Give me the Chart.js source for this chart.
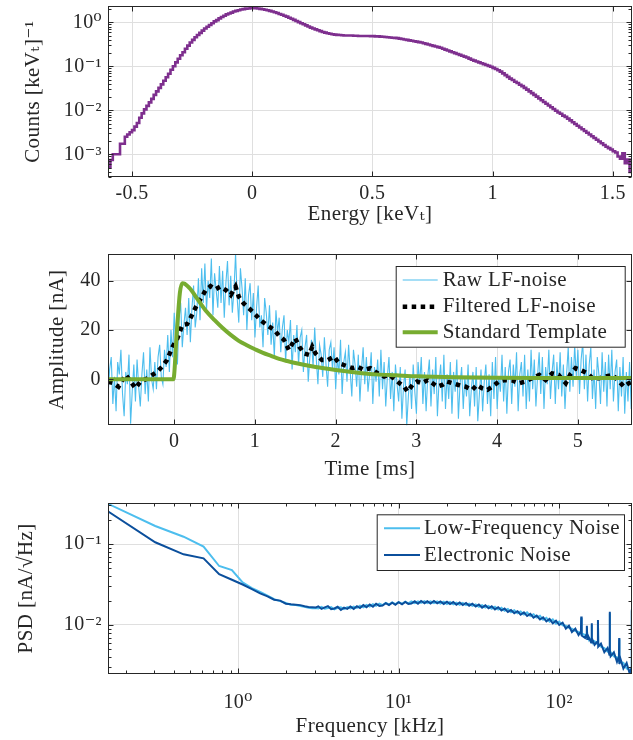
<!DOCTYPE html>
<html>
<head>
<meta charset="utf-8">
<script src="https://cdn.jsdelivr.net/npm/chart.js@4.4.1/dist/chart.umd.min.js"></script>
<style>
  html, body { margin: 0; padding: 0; background: #ffffff; }
  #wrap { position: relative; width: 633px; height: 740px; overflow: hidden; }
  canvas { position: absolute; left: 0; }
</style>
</head>
<body>
<div id="wrap">
  <canvas id="spectrum" width="633" height="240" style="top:0px"></canvas>
  <canvas id="pulse" width="633" height="250" style="top:240px"></canvas>
  <canvas id="psd" width="633" height="250" style="top:490px"></canvas>
</div>
<script>
// ---------------- Energy spectrum (histogram, 0.01 keV_t bins) ----------------
const binStart = -0.6;
const binWidth = 0.01;
// log10 of counts per keV_t in each bin, from the left edge
const logCounts = [
  -3.30, -3.13, -3.00, -3.00, -3.00, -2.76, -2.76, -2.60, -2.55, -2.50,
  -2.45, -2.37, -2.29, -2.17, -2.07, -1.98, -1.90, -1.82, -1.74, -1.65,
  -1.57, -1.49, -1.41, -1.33, -1.25, -1.17, -1.08, -1.00, -0.91, -0.83,
  -0.75, -0.68, -0.60, -0.53, -0.46, -0.40, -0.34, -0.29, -0.24, -0.19,
  -0.14, -0.10, -0.06, -0.02, 0.02, 0.05, 0.09, 0.12, 0.15, 0.18,
  0.20, 0.22, 0.245, 0.26, 0.275, 0.29, 0.30, 0.31, 0.315, 0.32,
  0.32, 0.318, 0.313, 0.305, 0.295, 0.285, 0.275, 0.26, 0.245, 0.23,
  0.21, 0.19, 0.17, 0.15, 0.13, 0.105, 0.08, 0.055, 0.03, 0.005,
  -0.02, -0.045, -0.07, -0.095, -0.12, -0.14, -0.16, -0.18, -0.20, -0.22,
  -0.235, -0.25, -0.26, -0.27, -0.28, -0.285, -0.29, -0.295, -0.30, -0.30,
  -0.30, -0.30, -0.305, -0.305, -0.31, -0.31, -0.31, -0.31, -0.31, -0.315,
  -0.315, -0.32, -0.32, -0.325, -0.33,
  -0.335, -0.34, -0.345, -0.35, -0.355, -0.36, -0.37, -0.38, -0.39, -0.40,
  -0.41, -0.42, -0.43, -0.44, -0.45, -0.46, -0.475, -0.49, -0.505, -0.52,
  -0.535, -0.55, -0.565, -0.58, -0.60, -0.62, -0.64, -0.66, -0.68, -0.70,
  -0.72, -0.74, -0.76, -0.78, -0.80, -0.825, -0.85, -0.87, -0.89, -0.91,
  -0.93, -0.95, -0.97, -0.99, -1.01, -1.035, -1.06, -1.09, -1.12, -1.16,
  -1.20, -1.24, -1.28, -1.31, -1.35, -1.38, -1.42, -1.45, -1.49, -1.53,
  -1.57, -1.61, -1.65, -1.69, -1.73, -1.77, -1.81, -1.85, -1.89, -1.93,
  -1.97, -2.01, -2.05, -2.08, -2.12, -2.15, -2.19, -2.23, -2.27, -2.31,
  -2.35, -2.39, -2.43, -2.47, -2.51, -2.55, -2.59, -2.63, -2.67, -2.71,
  -2.75, -2.79, -2.83, -2.86, -2.89, -2.93, -2.96, -3.05, -3.10, -2.98,
  -3.20, -3.12, -3.40
];
const energyTicks = [-0.5, 0, 0.5, 1, 1.5];
const energyTickLabels = ['-0.5', '0', '0.5', '1', '1.5'];
const countTicks = [1e-3, 1e-2, 1e-1, 1];
const countTickLabels = ['10⁻³', '10⁻²', '10⁻¹', '10⁰'];

// ---------------- Pulse (time domain) ----------------
const rawStart = -0.82;   // ms
const rawStep = 0.02;     // ms
const rawAmp = [
  -7, 4, 9, -10, 1, -13, 7, 2, 12, -6,
  -15, 3, -2, 10, -18, -5, 6, -9, 8, -3,
  -11, 2, 11, -6, 4, -9, 13, 0, -4, 7,
  -4, 9, 14, 1, -2, 12, 5, 18, 3, 20,
  9, 27, 14, 6, 25, 31, 13, 22, 29, 18,
  33, 15, 29, 38, 21, 27, 41, 24, 45, 31,
  47, 28, 40, 33, 49, 26, 43, 36, 29, 46,
  31, 44, 25, 39, 48, 30, 42, 27, 36, 51,
  33, 23, 45, 37, 26, 41, 20, 34, 39, 24,
  35, 17, 29, 38, 21, 26, 13, 33, 27, 18,
  30, 14, 23, 9, 28, 19, 25, 11, 21, 26,
  7, 20, 15, 24, 4, 18, 11, 22, 6, 17,
  20, 3, 13, 18, -1, 9, 16, 5, 21, 8,
  -2, 14, 10, 1, 17, 6, -3, 12, 15, 4,
  13, -4, 9, 2, 16, -6, 7, 11, -1, 14,
  3, -7, 12, 6, -3, 10, -9, 4, 13, -2,
  9, -5, 2, 11, -10, 5, -1, 8, -7, 12,
  -4, 7, -11, 1, 9, -8, 3, -13, 6, -2,
  -9, 5, -16, -3, 4, -19, -7, 2, -12, 6,
  -5, -14, 7, -2, 9, -10, 3, -13, 1, 8,
  -11, 4, -6, 9, -15, -1, 6, -9, 10, -12,
  2, -8, 7, -14, 3, -5, 8, -16, -2, 5,
  -12, 1, -7, 6, -15, -4, 3, -11, 5, -17,
  -6, 4, -13, -1, 6, -10, 2, -15, 7, -8,
  9, -12, 1, -5, 10, -9, 5, -14, 3, 8,
  -10, 6, -3, 11, -13, 2, 7, -7, 10, -12,
  4, -9, 12, -4, 8, -11, 1, 11, -6, 9,
  -12, 5, -2, 12, -8, 3, 10, -10, 7, -4,
  11, -7, 6, -12, 2, 13, -5, 9, -3, 14,
  1, 12, -6, 8, 15, -4, 10, -9, 6, 13,
  -8, 4, -12, 9, 2, -10, 11, -5, 7, -11,
  10, -4, 12, -9, 3, 8, -13, 5, -7, 9,
  -14, 3, -9, 7, -12, 4
];
const filtTime = [
  -0.82, -0.75, -0.69, -0.60, -0.54, -0.48, -0.42, -0.33, -0.27, -0.21,
  -0.15, -0.09, -0.02, 0.04, 0.10, 0.16, 0.21, 0.26, 0.33, 0.39,
  0.45, 0.51, 0.57, 0.64, 0.70, 0.76, 0.80, 0.86, 0.95, 1.01,
  1.07, 1.15, 1.24, 1.30, 1.36, 1.42, 1.50, 1.55, 1.61, 1.67,
  1.71, 1.75, 1.83, 1.90, 1.98, 2.04, 2.10, 2.21, 2.27, 2.35,
  2.43, 2.52, 2.60, 2.66, 2.72, 2.79, 2.85, 2.89, 2.95, 3.01,
  3.07, 3.14, 3.20, 3.26, 3.32, 3.38, 3.45, 3.52, 3.61, 3.69,
  3.75, 3.81, 3.88, 3.94, 4.02, 4.10, 4.19, 4.27, 4.35, 4.43,
  4.52, 4.60, 4.68, 4.76, 4.85, 4.91, 4.97, 5.03, 5.12, 5.18,
  5.26, 5.34, 5.43, 5.51, 5.57, 5.63, 5.68
];
const filtAmp = [
  -1.0, -1.6, -3.0, 1.8, -0.9, -3.6, -1.0, 0.4, 1.8, 3.1,
  5.1, 7.8, 13.2, 16.6, 22.0, 22.4, 25.4, 28.8, 32.8, 36.2,
  37.8, 36.5, 37.6, 36.2, 34.2, 37.6, 33.5, 30.8, 28.1, 26.1,
  24.0, 22.0, 20.0, 17.6, 16.0, 11.9, 16.6, 13.2, 10.5, 9.9,
  13.2, 10.5, 7.8, 7.8, 9.2, 6.5, 5.8, 4.5, 5.1, 3.8,
  4.5, 2.4, 1.1, 1.8, 0.4, -1.6, -3.0, -5.0, -2.3, -0.9,
  -1.6, -0.3, -1.6, -3.0, -2.3, -0.9, -1.6, -2.3, -3.0, -4.3,
  -2.3, -3.6, -4.3, -3.0, -0.9, -0.3, -0.5, -1.6, -0.9, 0.4,
  1.8, -0.3, 2.4, 1.8, -1.6, 2.2, 4.5, 3.8, 2.4, 0.4,
  0.4, 1.1, 1.8, -0.9, -3.0, -1.6, -1.0
];
const tmplTime = [
  -0.82, -0.01, 0.03, 0.07, 0.10, 0.13, 0.20, 0.30, 0.40, 0.50,
  0.60, 0.70, 0.80, 0.90, 1.00, 1.10, 1.20, 1.30, 1.40, 1.50,
  1.75, 2.00, 2.25, 2.50, 2.75, 3.00, 3.50, 4.00, 4.50, 5.00, 5.68
];
const tmplAmp = [
  0, 0, 18, 35, 39, 38.8, 36.6, 32, 27.5, 24,
  20.8, 18, 15.6, 13.8, 12.2, 10.7, 9.5, 8.3, 7.4, 6.6,
  5.0, 3.8, 2.8, 2.0, 1.6, 1.2, 0.8, 0.6, 0.5, 0.5, 0.5
];
const timeTicks = [0, 1, 2, 3, 4, 5];
const timeTickLabels = ['0', '1', '2', '3', '4', '5'];
const ampTicks = [0, 20, 40];
const ampTickLabels = ['0', '20', '40'];

// ---------------- Noise spectral density ----------------
const freqKHz = [
  0.153, 0.305, 0.458, 0.610, 0.763, 0.916, 1.068, 1.221, 1.373, 1.526,
  1.679, 1.831, 1.984, 2.136, 2.289, 2.442, 2.594, 2.747, 2.899, 3.052,
  3.16, 3.31, 3.47, 3.63, 3.80, 3.98, 4.17, 4.37, 4.57, 4.79,
  5.01, 5.25, 5.50, 5.75, 6.03, 6.31, 6.61, 6.92, 7.24, 7.59,
  7.94, 8.32, 8.71, 9.12, 9.55, 10.0, 10.5, 11.0, 11.5, 12.0,
  12.6, 13.2, 13.8, 14.5, 15.1, 15.8, 16.6, 17.4, 18.2, 19.1,
  20.0, 20.9, 21.9, 22.9, 24.0, 25.1, 26.3, 27.5, 28.8, 30.2,
  31.6, 33.1, 34.7, 36.3, 38.0, 39.8, 41.7, 43.7, 45.7, 47.9,
  50.1, 52.5, 55.0, 57.5, 60.3, 63.1, 66.1, 69.2, 72.4, 75.9,
  79.4, 83.2, 87.1, 91.2, 95.5, 100,
  105, 110, 115, 120, 126, 132, 136.5, 137.2, 138, 145,
  148, 148.7, 149.5, 151, 158, 159.2, 160, 166, 173.5, 174.3,
  175, 182, 191, 200, 205.5, 206.3, 207, 209, 219, 229,
  235.5, 236.3, 237, 240, 251, 263, 275, 282.5, 283.3, 284
];
const psdLowFreq = [
  0.318, 0.167, 0.123, 0.0927, 0.0535, 0.0477, 0.0335, 0.0285, 0.0256, 0.0230,
  0.0208, 0.0197, 0.0187, 0.0178, 0.0176, 0.0172, 0.0168, 0.0163, 0.0161, 0.0162,
  0.0160, 0.0167, 0.0159, 0.0162, 0.0166, 0.0156, 0.0163, 0.0165, 0.0157, 0.0166,
  0.0160, 0.0169, 0.0163, 0.0173, 0.0165, 0.0177, 0.0169, 0.0181, 0.0172, 0.0184,
  0.0176, 0.0187, 0.0179, 0.0190, 0.0181, 0.0192, 0.0183, 0.0194, 0.0185, 0.0195,
  0.0186, 0.0196, 0.0187, 0.0197, 0.0187, 0.0196, 0.0186, 0.0195, 0.0184, 0.0194,
  0.0182, 0.0192, 0.0180, 0.0189, 0.0178, 0.0187, 0.0176, 0.0184, 0.0172, 0.0180,
  0.0168, 0.0176, 0.0164, 0.0172, 0.0159, 0.0168, 0.0155, 0.0163, 0.0150, 0.0158,
  0.0144, 0.0152, 0.0140, 0.0147, 0.0135, 0.0143, 0.0129, 0.0136, 0.0124, 0.0130,
  0.0116, 0.0123, 0.0110, 0.0117, 0.0104, 0.0110,
  0.0099, 0.0098, 0.0092, 0.0090, 0.0084, 0.0082, 0.0078, 0.0122, 0.0079, 0.0075,
  0.0071, 0.0094, 0.0072, 0.0069, 0.0067, 0.0100, 0.0064, 0.0063, 0.0058, 0.0110,
  0.0059, 0.0054, 0.0052, 0.0047, 0.0048, 0.0140, 0.0045, 0.0046, 0.0041, 0.0040,
  0.0036, 0.0066, 0.0038, 0.0035, 0.0034, 0.0029, 0.0028, 0.0026, 0.0150, 0.0025
];
const psdElectronic = [
  0.257, 0.105, 0.0746, 0.0665, 0.0423, 0.0362, 0.0316, 0.0278, 0.0246, 0.0226,
  0.0205, 0.0200, 0.0183, 0.0180, 0.0178, 0.0176, 0.0170, 0.0167, 0.0166, 0.0165,
  0.0170, 0.0158, 0.0165, 0.0171, 0.0157, 0.0160, 0.0168, 0.0153, 0.0164, 0.0158,
  0.0169, 0.0158, 0.0171, 0.0162, 0.0176, 0.0166, 0.0179, 0.0168, 0.0183, 0.0172,
  0.0174, 0.0186, 0.0176, 0.0189, 0.0178, 0.0191, 0.0180, 0.0193, 0.0182, 0.0184,
  0.0196, 0.0183, 0.0198, 0.0186, 0.0197, 0.0184, 0.0198, 0.0185, 0.0195, 0.0182,
  0.0194, 0.0181, 0.0192, 0.0178, 0.0190, 0.0176, 0.0187, 0.0173, 0.0183, 0.0169,
  0.0179, 0.0164, 0.0175, 0.0161, 0.0170, 0.0156, 0.0166, 0.0151, 0.0160, 0.0145,
  0.0153, 0.0140, 0.0148, 0.0134, 0.0143, 0.0129, 0.0137, 0.0123, 0.0131, 0.0117,
  0.0124, 0.0111, 0.0119, 0.0105, 0.0113, 0.0100,
  0.0107, 0.0090, 0.0098, 0.0082, 0.0090, 0.0075, 0.0083, 0.0127, 0.0074, 0.0069,
  0.0077, 0.0098, 0.0067, 0.0074, 0.0061, 0.0105, 0.0069, 0.0057, 0.0063, 0.0115,
  0.0054, 0.0059, 0.0046, 0.0052, 0.0043, 0.0146, 0.0050, 0.0041, 0.0046, 0.0035,
  0.0041, 0.0069, 0.0033, 0.0039, 0.0029, 0.0034, 0.0025, 0.0030, 0.0155, 0.0026
];
const freqTicks = [1, 10, 100];
const freqTickLabels = ['10⁰', '10¹', '10²'];
const psdTicks = [0.01, 0.1];
const psdTickLabels = ['10⁻²', '10⁻¹'];

// ---------------- Styling ----------------
const FONT = "'Liberation Serif', 'DejaVu Serif', serif";
const INK = '#262626';
const GRID = '#dfdfdf';
const PURPLE = '#7E2F8E';
const SKY = '#4DBEEE';
const GREEN = '#77AC30';
const NAVY = '#0B4F9C';

Chart.defaults.font.family = FONT;
Chart.defaults.font.size = 20;
Chart.defaults.color = INK;

// slightly wider text, closer to the TeX look of the labels
const letterSpacing = {
  id: 'letterSpacing',
  beforeDraw(chart) { if ('letterSpacing' in chart.ctx) chart.ctx.letterSpacing = '0.4px'; }
};

// values 2..9 x 10^n inside (min, max), used for minor ticks of log axes
function minorLogValues(min, max) {
  const out = [];
  for (let d = Math.floor(Math.log10(min)); d <= Math.ceil(Math.log10(max)); d++) {
    for (let m = 2; m <= 9; m++) {
      const v = m * Math.pow(10, d);
      if (v > min && v < max) out.push(v);
    }
  }
  return out;
}

// closed axes box with inward ticks on all four sides
const axesBox = {
  id: 'axesBox',
  afterDatasetsDraw(chart) {
    const { ctx, chartArea: a } = chart;
    const L = Math.round(a.left) + 0.5, R = Math.round(a.right) - 0.5;
    const T = Math.round(a.top) + 0.5, B = Math.round(a.bottom) - 0.5;
    ctx.save();
    ctx.strokeStyle = INK;
    ctx.lineWidth = 1;
    ctx.beginPath();
    const mark = (scale, v, len) => {
      const p = Math.round(scale.getPixelForValue(v)) + 0.5;
      if (scale.isHorizontal()) {
        ctx.moveTo(p, B); ctx.lineTo(p, B - len);
        ctx.moveTo(p, T); ctx.lineTo(p, T + len);
      } else {
        ctx.moveTo(L, p); ctx.lineTo(L + len, p);
        ctx.moveTo(R, p); ctx.lineTo(R - len, p);
      }
    };
    [chart.scales.x, chart.scales.y].forEach(s => {
      s.ticks.forEach(t => mark(s, t.value, 5));
      if (s.type === 'logarithmic') minorLogValues(s.min, s.max).forEach(v => mark(s, v, 3));
    });
    ctx.stroke();
    ctx.strokeRect(L, T, R - L, B - T);
    ctx.restore();
  }
};

// boxed legend inside the plot, styled from the datasets it lists
const boxLegend = {
  id: 'boxLegend',
  afterDraw(chart, args, o) {
    if (!o || !o.rows) return;
    const ctx = chart.ctx;
    ctx.save();
    ctx.fillStyle = '#ffffff';
    ctx.fillRect(o.left, o.top, o.right - o.left, o.bottom - o.top);
    ctx.strokeStyle = INK;
    ctx.lineWidth = 1;
    ctx.strokeRect(o.left + 0.5, o.top + 0.5, o.right - o.left - 1, o.bottom - o.top - 1);
    ctx.font = '21px ' + FONT;
    ctx.textBaseline = 'middle';
    ctx.textAlign = 'left';
    o.rows.forEach((idx, r) => {
      const ds = chart.data.datasets[idx];
      const y = o.rowY[r];
      ctx.strokeStyle = ds.borderColor;
      ctx.lineWidth = ds.borderWidth;
      ctx.setLineDash(ds.borderDash || []);
      ctx.beginPath();
      ctx.moveTo(o.sampleX0, y);
      ctx.lineTo(o.sampleX1, y);
      ctx.stroke();
      ctx.setLineDash([]);
      ctx.fillStyle = INK;
      ctx.fillText(ds.label, o.textX, y);
    });
    ctx.restore();
  }
};

function axis(o) {
  return {
    type: o.type,
    min: o.min,
    max: o.max,
    afterBuildTicks: s => { s.ticks = o.ticks.map(v => ({ value: v })); },
    afterFit: s => {
      if (o.horizontal) s.height = o.size; else s.width = o.size;
      s.paddingLeft = s.paddingRight = s.paddingTop = s.paddingBottom = 0;
    },
    ticks: {
      autoSkip: false, maxRotation: 0, minRotation: 0,
      padding: o.tickPad, color: INK, font: { size: 20 },
      callback: (v, i) => o.labels[i]
    },
    grid: { color: GRID, lineWidth: 1, drawTicks: false },
    border: { display: false },
    title: { display: true, text: o.title, color: INK, font: { size: 21 }, padding: o.titlePad }
  };
}

function options(padTop, x, y, legend) {
  return {
    responsive: false,
    animation: false,
    events: [],
    layout: { padding: { top: padTop, right: 1, left: 0, bottom: 0 } },
    scales: { x, y },
    plugins: { legend: { display: false }, tooltip: { enabled: false }, boxLegend: legend || {} }
  };
}

// ---------------- Panel 1: energy spectrum ----------------
const specPoints = logCounts.map((lc, i) => ({ x: binStart + i * binWidth, y: Math.pow(10, lc) }));
specPoints.push({ x: binStart + logCounts.length * binWidth, y: Math.pow(10, logCounts[logCounts.length - 1]) });

new Chart(document.getElementById('spectrum'), {
  type: 'line',
  data: {
    datasets: [{
      label: 'Spectrum', data: specPoints, stepped: true,
      borderColor: PURPLE, borderWidth: 2.6, pointRadius: 0, fill: false
    }]
  },
  options: options(6,
    axis({ type: 'linear', min: -0.6, max: 1.58, ticks: energyTicks, labels: energyTickLabels,
           horizontal: true, size: 62.7, tickPad: 4,
           title: 'Energy [keVₜ]', titlePad: { top: 0, bottom: 13.2 } }),
    axis({ type: 'logarithmic', min: 3.0e-4, max: 2.347, ticks: countTicks, labels: countTickLabels,
           horizontal: false, size: 108, tickPad: 6,
           title: 'Counts [keVₜ]⁻¹', titlePad: { top: 20.5, bottom: 0 } })
  ),
  plugins: [letterSpacing, axesBox]
});

// ---------------- Panel 2: pulse ----------------
new Chart(document.getElementById('pulse'), {
  type: 'line',
  data: {
    datasets: [
      { label: 'Raw LF-noise', order: 3,
        data: rawAmp.map((v, i) => ({ x: rawStart + i * rawStep, y: v })),
        borderColor: SKY, borderWidth: 1.1, pointRadius: 0, fill: false },
      { label: 'Filtered LF-noise', order: 2,
        data: filtAmp.map((v, i) => ({ x: filtTime[i], y: v })),
        borderColor: '#000000', borderWidth: 4.5, borderDash: [4.5, 4.5], pointRadius: 0, fill: false },
      { label: 'Standard Template', order: 1,
        data: tmplAmp.map((v, i) => ({ x: tmplTime[i], y: v })),
        borderColor: GREEN, borderWidth: 4, pointRadius: 0, fill: false,
        cubicInterpolationMode: 'monotone' }
    ]
  },
  options: options(14,
    axis({ type: 'linear', min: -0.82, max: 5.67, ticks: timeTicks, labels: timeTickLabels,
           horizontal: true, size: 64.7, tickPad: 4.3,
           title: 'Time [ms]', titlePad: { top: 0, bottom: 7.6 } }),
    axis({ type: 'linear', min: -18.66, max: 50.83, ticks: ampTicks, labels: ampTickLabels,
           horizontal: false, size: 108, tickPad: 7,
           title: 'Amplitude [nA]', titlePad: { top: 44.9, bottom: 0 } }),
    { rows: [0, 1, 2], left: 395.7, right: 625.7, top: 26, bottom: 107.7,
      rowY: [40, 66.7, 92.3], sampleX0: 402.7, sampleX1: 437.7, textX: 442.7 }
  ),
  plugins: [letterSpacing, axesBox, boxLegend]
});

// ---------------- Panel 3: noise PSD ----------------
new Chart(document.getElementById('psd'), {
  type: 'line',
  data: {
    datasets: [
      { label: 'Low-Frequency Noise', order: 2,
        data: psdLowFreq.map((v, i) => ({ x: freqKHz[i], y: v })),
        borderColor: SKY, borderWidth: 2, pointRadius: 0, fill: false },
      { label: 'Electronic Noise', order: 1,
        data: psdElectronic.map((v, i) => ({ x: freqKHz[i], y: v })),
        borderColor: NAVY, borderWidth: 2, pointRadius: 0, fill: false }
    ]
  },
  options: options(12.7,
    axis({ type: 'logarithmic', min: 0.155, max: 284, ticks: freqTicks, labels: freqTickLabels,
           horizontal: true, size: 66, tickPad: 17,
           title: 'Frequency [kHz]', titlePad: { top: 0, bottom: 1.4 } }),
    axis({ type: 'logarithmic', min: 0.002483, max: 0.3236, ticks: psdTicks, labels: psdTickLabels,
           horizontal: false, size: 108, tickPad: 6,
           title: 'PSD [nA/√Hz]', titlePad: { top: 13.6, bottom: 0 } }),
    { rows: [0, 1], left: 376.7, right: 625, top: 24.3, bottom: 81,
      rowY: [38.3, 65], sampleX0: 384, sampleX1: 420, textX: 424 }
  ),
  plugins: [letterSpacing, axesBox, boxLegend]
});
</script>
</body>
</html>
